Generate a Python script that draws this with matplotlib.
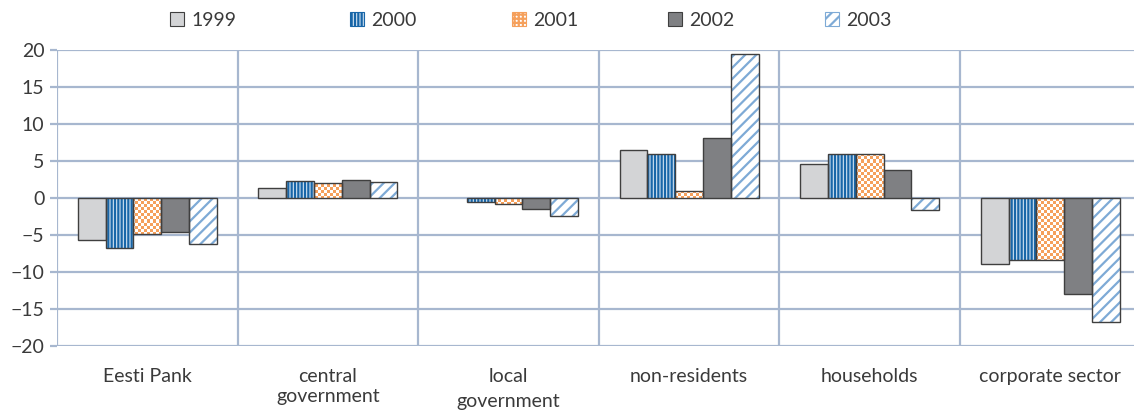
import numpy as np
import matplotlib
matplotlib.use("Agg")
import matplotlib.pyplot as plt
from matplotlib.patches import Patch

# Net position by sector, yearly change
sectors = ["Eesti Pank", "central\ngovernment", "local\ngovernment",
           "non-residents", "households", "corporate sector"]
years = ["1999", "2000", "2001", "2002", "2003"]
v1999 = [-5.7, 1.4, 0.0, 6.5, 4.6, -8.9]
v2000 = [-6.8, 2.3, -0.5, 6.0, 6.0, -8.4]
v2001 = [-4.9, 2.0, -0.8, 0.9, 6.0, -8.4]
v2002 = [-4.6, 2.5, -1.5, 8.1, 3.8, -13.0]
v2003 = [-6.2, 2.2, -2.4, 19.5, -1.6, -16.8]
series = [v1999, v2000, v2001, v2002, v2003]
y_ticks = [20, 15, 10, 5, 0, -5, -10, -15, -20]

plt.rcParams["font.family"] = ["Lato", "DejaVu Sans"]
plt.rcParams["hatch.linewidth"] = 1.6
TXT = "#3a3a3a"
GRID = "#a7b7cf"
EDGE = "#3f3f3f"

# fill, hatch colour, hatch pattern for each year
styles = [
    dict(face="#d3d4d6", hcol="#d3d4d6", hatch=None),
    dict(face="#d4e4f3", hcol="#1866a8", hatch="|||||"),
    dict(face="white", hcol="#f5a05c", hatch="checker"),
    dict(face="#7f8083", hcol="#7f8083", hatch=None),
    dict(face="white", hcol="#7eaad6", hatch="///"),
]

W, H = 1134, 418
fig = plt.figure(figsize=(W / 100, H / 100), dpi=100)
ax = fig.add_axes([57 / W, 72 / H, 1083.6 / W, 296 / H])

n = len(sectors)
x = np.arange(n)
bw = 0.154

ax.set_xlim(-0.5, n - 0.5)
ax.set_ylim(-20, 20)

# checkerboard texture used for the 2001 bars
cell = 3.0
ax_w_px, ax_h_px = 1083.6, 296.0
nx, ny = int(ax_w_px / cell) + 1, int(ax_h_px / cell) + 1
checker = (np.add.outer(np.arange(ny), np.arange(nx)) % 2).astype(float)
ext = (-0.5, -0.5 + nx * cell / ax_w_px * n, -20, -20 + ny * cell / ax_h_px * 40)
cmap = matplotlib.colors.ListedColormap(["white", "#f5a05c"])

for i, (vals, st) in enumerate(zip(series, styles)):
    xpos = x + (i - 2) * bw
    vals = np.asarray(vals)
    if st["hatch"] == "checker":
        fill = ax.bar(xpos, vals, bw, color="white", linewidth=0, zorder=3)
        for b in fill:
            im = ax.imshow(checker, cmap=cmap, extent=ext, origin="lower",
                           interpolation="nearest", aspect="auto", zorder=3.5)
            im.set_clip_path(b)
    else:
        ax.bar(xpos, vals, bw, color=st["face"], edgecolor=st["hcol"],
               hatch=st["hatch"], linewidth=0, zorder=3)
    ax.bar(xpos, vals, bw, fill=False, edgecolor=EDGE,
           linewidth=np.where(vals == 0, 0, 1.0), zorder=4)

# grid and category separators
ax.set_yticks(y_ticks)
ax.yaxis.grid(True, color=GRID, linewidth=1.6, zorder=0)
for b in np.arange(-0.5, n, 1.0):
    ax.axvline(b, color=GRID, linewidth=1.6, zorder=0)
for s in ax.spines.values():
    s.set_visible(False)
ax.set_axisbelow(True)

ax.tick_params(axis="y", length=5, width=1.6, color=GRID, labelcolor=TXT,
               labelsize=14, pad=4)
ax.tick_params(axis="x", length=0, labelcolor=TXT, labelsize=14, pad=16)
ax.set_xticks(x)
ax.set_xticklabels(sectors)
ax.get_xticklabels()[2].set_linespacing(1.55)
ax.set_xlim(-0.5, n - 0.5)
ax.set_ylim(-20, 20)

# legend entries placed one by one along the top
legend_x = [170, 350, 512, 668, 825]
for yr, st, lx in zip(years, styles, legend_x):
    if st["hatch"] == "checker":
        h = Patch(facecolor="white", edgecolor="#f5a05c", hatch="++++",
                  linewidth=0.8, label=yr)
    elif st["hatch"]:
        h = Patch(facecolor=st["face"], edgecolor=st["hcol"], hatch=st["hatch"],
                  linewidth=0.8, label=yr)
    else:
        h = Patch(facecolor=st["face"], edgecolor=EDGE, linewidth=0.8, label=yr)
    lg = fig.legend(handles=[h], loc="center left", bbox_to_anchor=(lx / W, 1 - 20 / H),
                    frameon=False, fontsize=14, handlelength=0.7, handleheight=0.7,
                    handletextpad=0.4, borderpad=0, borderaxespad=0, labelcolor=TXT)

fig.savefig("out.png", dpi=100)
